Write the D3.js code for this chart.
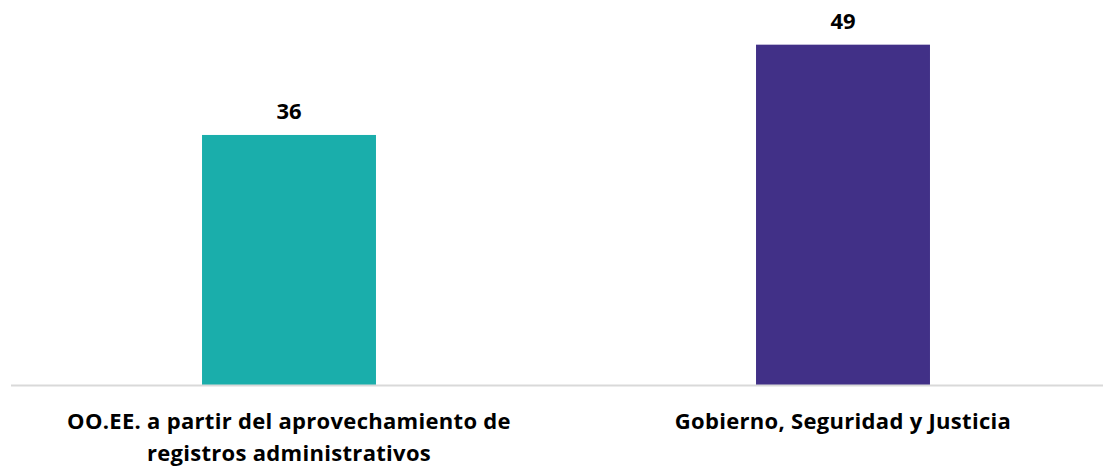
<!DOCTYPE html>
<html lang="es">
<head>
	<meta charset="utf-8">
	<title>Bar chart</title>
	<script src="https://cdn.jsdelivr.net/npm/d3@7"></script>
	<style>
		body { margin: 0; background: #fff; }
		text { font-family: "Open Sans", "Noto Sans", sans-serif; font-weight: bold; fill: #000; }
	</style>
</head>
<body>
<div id="chart"></div>
<script type="text/javascript">

	// data
	var categories = ["OO.EE. a partir del aprovechamiento de|registros administrativos", "Gobierno, Seguridad y Justicia"];
	var values = [36, 49];
	var colors = ["#1aaeab", "#413087"];

	var width = 1103, height = 466;
	var baseline = 385;

	var svg = d3.select("#chart")
		.append("svg")
		.attr("width", width)
		.attr("height", height);

	var xScale = d3.scaleBand()
		.domain(categories)
		.range([12, 1120])
		.paddingInner(0.686)
		.paddingOuter(0.343);

	var yScale = d3.scaleLinear()
		.domain([0, 55])
		.range([baseline, 3]);

	// bars
	svg.selectAll("rect.bar")
		.data(values)
		.enter()
		.append("rect")
		.attr("class", "bar")
		.attr("x", function(d, i){ return xScale(categories[i]); })
		.attr("y", function(d){ return yScale(d); })
		.attr("width", xScale.bandwidth())
		.attr("height", function(d){ return baseline - yScale(d); })
		.attr("fill", function(d, i){ return colors[i]; });

	// axis line
	svg.append("line")
		.attr("x1", 11).attr("x2", 1103)
		.attr("y1", baseline + 0.5).attr("y2", baseline + 0.5)
		.attr("stroke", "#d9d9d9")
		.attr("stroke-width", 2);

	// value labels
	svg.selectAll("text.val")
		.data(values)
		.enter()
		.append("text")
		.attr("class", "val")
		.attr("x", function(d, i){ return xScale(categories[i]) + xScale.bandwidth() / 2; })
		.attr("y", function(d){ return yScale(d) - 16; })
		.attr("text-anchor", "middle")
		.style("font-size", "22px")
		.text(function(d){ return d; });

	// category labels
	var cats = svg.selectAll("text.cat")
		.data(categories)
		.enter()
		.append("text")
		.attr("class", "cat")
		.attr("text-anchor", "middle")
		.style("font-size", "22px")
		.style("letter-spacing", "0.3px")
		.attr("y", 429);

	cats.selectAll("tspan")
		.data(function(d){ return d.split("|"); })
		.enter()
		.append("tspan")
		.attr("x", function(){ var c = d3.select(this.parentNode).datum(); return xScale(c) + xScale.bandwidth() / 2; })
		.attr("dy", function(d, i){ return i === 0 ? 0 : 32; })
		.text(function(d){ return d; });

</script>
</body>
</html>
